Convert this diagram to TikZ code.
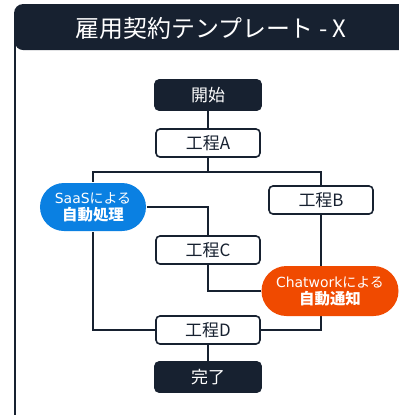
\documentclass[tikz,border=0pt]{standalone}
\usepackage{fontspec}
\setmainfont{Noto Sans CJK JP}
\newfontfamily\latinfont{DejaVu Sans}
\usepackage{xcolor}
\usetikzlibrary{backgrounds}
\definecolor{navy}{RGB}{23,33,48}
\definecolor{saasblue}{RGB}{10,128,226}
\definecolor{cworange}{RGB}{240,74,0}

\begin{document}
\begin{tikzpicture}[x=1bp,y=-1bp,
  line width=1.6bp,
  termbox/.style={fill=navy,draw=navy,rounded corners=4bp,minimum width=106bp,minimum height=30bp,text=white,font=\fontsize{17}{19}\selectfont,inner sep=0pt},
  procbox/.style={fill=white,draw=navy,rounded corners=4bp,minimum width=104bp,minimum height=28bp,text=navy,font=\fontsize{17}{19}\selectfont,inner sep=0pt},
  bubble/.style={rounded corners=24bp,minimum height=48bp,text=white,align=center,inner sep=0pt,font=\fontsize{14}{17}\selectfont},
  wire/.style={draw=navy,line width=1.6bp}]
\useasboundingbox (0,0) rectangle (399,415);
\clip (0,0) rectangle (399,415);
% frame and title bar
\draw[navy,line width=1.8bp,rounded corners=8bp] (15,440) -- (15,5) -- (420,5);
\fill[navy,rounded corners=8bp] (15,50) -- (15,5) -- (420,5) -- (420,50) -- cycle;
\node[text=white,font=\fontsize{24}{26}\selectfont] (title) at (211,28) {雇用契約テンプレート - X};
% steps
\node[termbox] (start) at (208,95) {開始};
\node[procbox] (stepA) at (208,143) {工程A};
\node[procbox] (stepB) at (321,200) {工程B};
\node[procbox] (stepC) at (208,250) {工程C};
\node[procbox] (stepD) at (208,330) {工程D};
\node[termbox] (finish) at (208,377) {完了};
% tools
\node[bubble,fill=saasblue,minimum width=106bp] (saas) at (93,207) {{\latinfont SaaS}による\\{\fontsize{15.5}{17}\selectfont\bfseries 自動処理}};
\node[bubble,fill=cworange,minimum width=137bp,minimum height=50bp,rounded corners=25bp] (chatwork) at (330,291) {{\latinfont Chatwork}による\\{\fontsize{15.5}{17}\selectfont\bfseries 自動通知}};
\coordinate (split) at (208,172);
\begin{scope}[on background layer]
\draw[wire] (start) -- (stepA);
\draw[wire] (stepA.south) -- (split);
\draw[wire] (split) -| (saas.north);
\draw[wire] (split) -| (stepB.north);
\draw[wire] (saas.east) -| (stepC.north);
\draw[wire] (saas.south) |- (stepD.west);
\draw[wire] (stepC.south) |- (chatwork.west);
\draw[wire] (stepB.south) |- (stepD.east);
\draw[wire] (stepD) -- (finish);
\end{scope}
\end{tikzpicture}
\end{document}
